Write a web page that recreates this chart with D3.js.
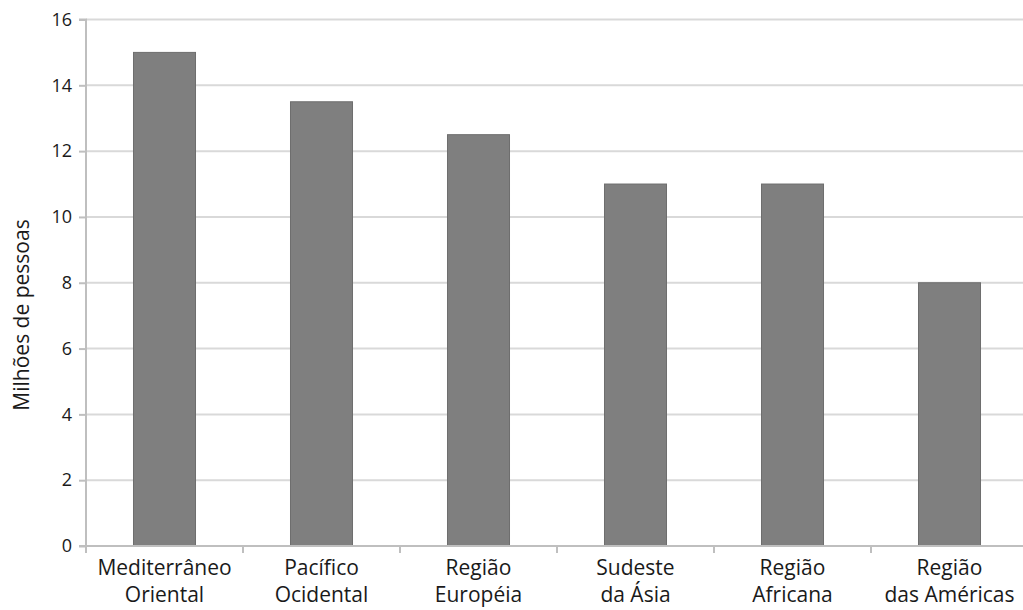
<!DOCTYPE html>
<html>
<head>
<meta charset="utf-8">
<script src="https://cdn.jsdelivr.net/npm/d3@7"></script>
<style>
  body { margin: 0; background: #fff; }
  svg { display: block; }
  text { font-family: "Open Sans", sans-serif; fill: #1a1a1a; }
</style>
</head>
<body>
<svg id="drawspace" width="1023" height="610"></svg>
<script>
// data
const regions = [
  ["Mediterrâneo", "Oriental"],
  ["Pacífico", "Ocidental"],
  ["Região", "Européia"],
  ["Sudeste", "da Ásia"],
  ["Região", "Africana"],
  ["Região", "das Américas"]
];
const people = [15, 13.5, 12.5, 11, 11, 8];
const yTicks = [0, 2, 4, 6, 8, 10, 12, 14, 16];
const yTitle = "Milhões de pessoas";

let drawSpace = d3.select("#drawspace");

// plot area
let plotL = 86, plotR = 1028, plotT = 19.5, plotB = 546;

let xScale = d3.scaleBand()
  .domain(regions.map((d, i) => i))
  .range([plotL, plotR])
  .padding(0);

let yScale = d3.scaleLinear().domain([0, 16]).range([plotB, plotT]);

// gridlines
drawSpace.append("g")
  .selectAll("line")
  .data(yTicks.slice(1))
  .enter()
  .append("line")
  .attr("x1", plotL)
  .attr("x2", 1023)
  .attr("y1", d => yScale(d))
  .attr("y2", d => yScale(d))
  .attr("stroke", "#d9d9d9")
  .attr("stroke-width", 2);

// bars
let barW = xScale.bandwidth() * 0.395;
drawSpace.append("g")
  .selectAll("rect")
  .data(people)
  .enter()
  .append("rect")
  .attr("x", (d, i) => xScale(i) + (xScale.bandwidth() - barW) / 2)
  .attr("y", d => yScale(d))
  .attr("width", barW)
  .attr("height", d => yScale(0) - yScale(d))
  .attr("fill", "#7f7f7f")
  .attr("stroke", "#6e6e6e")
  .attr("stroke-width", 1);

// y axis
let yAxis = d3.axisLeft(yScale).tickValues(yTicks).tickSize(7).tickPadding(7);
let yG = drawSpace.append("g").attr("transform", `translate(${plotL},0)`).call(yAxis);
yG.select(".domain").attr("stroke", "#bfbfbf").attr("stroke-width", 2).attr("d", `M-7,${plotT}H0V${plotB}`);
yG.selectAll(".tick line").attr("stroke", "#bfbfbf").attr("stroke-width", 2);
yG.selectAll(".tick text").style("font-size", "18px").style("font-family", "'Open Sans', sans-serif").attr("fill", "#1a1a1a");

// x axis: category ticks at band edges
let xG = drawSpace.append("g");
xG.append("line")
  .attr("x1", plotL - 7).attr("x2", 1023)
  .attr("y1", plotB).attr("y2", plotB)
  .attr("stroke", "#bfbfbf").attr("stroke-width", 2);
xG.selectAll(".xt")
  .data(regions.map((d, i) => i))
  .enter()
  .append("line")
  .attr("class", "xt")
  .attr("x1", d => xScale(d)).attr("x2", d => xScale(d))
  .attr("y1", plotB).attr("y2", plotB + 7)
  .attr("stroke", "#bfbfbf").attr("stroke-width", 2);

let labels = xG.selectAll(".lbl")
  .data(regions)
  .enter()
  .append("text")
  .attr("class", "lbl")
  .attr("text-anchor", "middle")
  .style("font-size", "21px");
labels.each(function (d, i) {
  let cx = xScale(i) + xScale.bandwidth() / 2;
  d3.select(this).selectAll("tspan")
    .data(d)
    .enter()
    .append("tspan")
    .attr("x", cx)
    .attr("y", (t, j) => 575 + j * 27)
    .text(t => t);
});

// y title
drawSpace.append("text")
  .attr("transform", "translate(29,315) rotate(-90)")
  .attr("text-anchor", "middle")
  .style("font-size", "21px")
  .text(yTitle);
</script>
</body>
</html>
